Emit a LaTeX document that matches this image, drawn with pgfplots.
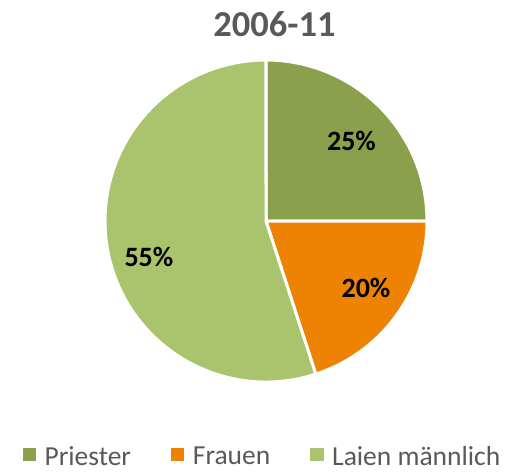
\documentclass[border=0pt]{standalone}
\usepackage{pgfplots}
\usepackage{pgfplotstable}
\pgfplotsset{compat=1.18}
\usepackage{fontspec}
\setmainfont{Carlito}
\definecolor{cPri}{HTML}{8BA04D}
\definecolor{cFra}{HTML}{EE8303}
\definecolor{cLai}{HTML}{AAC36D}
\definecolor{txt}{HTML}{595959}
\pgfplotstableread{
label value
Priester 25
Frauen 20
Laien 55
}\piedata
\begin{document}
\begin{tikzpicture}[x=1pt,y=1pt]
\path[use as bounding box] (-266,-251) rectangle (247,221);
\pgfplotstablegetelem{0}{value}\of\piedata \edef\vA{\pgfplotsretval}
\pgfplotstablegetelem{1}{value}\of\piedata \edef\vB{\pgfplotsretval}
\pgfplotstablegetelem{2}{value}\of\piedata \edef\vC{\pgfplotsretval}
\pgfmathsetmacro{\aA}{90}
\pgfmathsetmacro{\aB}{\aA-3.6*\vA}
\pgfmathsetmacro{\aC}{\aB-3.6*\vB}
\pgfmathsetmacro{\aD}{\aC-3.6*\vC}
\pgfmathsetmacro{\xA}{cos(\aA)}\pgfmathsetmacro{\yA}{sin(\aA)}
\pgfmathsetmacro{\xB}{cos(\aB)}\pgfmathsetmacro{\yB}{sin(\aB)}
\pgfmathsetmacro{\xC}{cos(\aC)}\pgfmathsetmacro{\yC}{sin(\aC)}
\begin{axis}[
  at={(0,0)}, anchor=origin,
  x=161pt, y=161pt,
  xmin=-1.1, xmax=1.1, ymin=-1.1, ymax=1.1,
  hide axis, clip=false,
  legend columns=3,
  legend style={draw=none, fill=none, font=\fontsize{27.5}{30}\selectfont\color{txt},
    at={(0.4873,-0.166)}, anchor=center, nodes={inner sep=0pt},
    /tikz/every odd column/.append style={column sep=9pt},
    /tikz/every even column/.append style={column sep=40pt}},
  legend image code/.code={\fill[#1] (0pt,-3.5pt) rectangle (12.5pt,9pt);},
]
\addlegendimage{cPri}\addlegendentry{Priester}
\addlegendimage{cFra}\addlegendentry{Frauen}
\addlegendimage{cLai}\addlegendentry{Laien männlich}
\filldraw[fill=cPri, draw=white, line width=3pt, line join=round]
  (axis cs:0,0) -- (axis cs:\xA,\yA) arc[start angle=\aA, end angle=\aB, radius=161pt] -- cycle;
\filldraw[fill=cFra, draw=white, line width=3pt, line join=round]
  (axis cs:0,0) -- (axis cs:\xB,\yB) arc[start angle=\aB, end angle=\aC, radius=161pt] -- cycle;
\filldraw[fill=cLai, draw=white, line width=3pt, line join=round]
  (axis cs:0,0) -- (axis cs:\xC,\yC) arc[start angle=\aC, end angle=\aD, radius=161pt] -- cycle;
\node[font=\fontsize{28}{32}\selectfont\bfseries, anchor=base, inner sep=0pt] at (axis cs:0.531,0.441) {\vA\%};
\node[font=\fontsize{28}{32}\selectfont\bfseries, anchor=base, inner sep=0pt] at (axis cs:0.621,-0.478) {\vB\%};
\node[font=\fontsize{28}{32}\selectfont\bfseries, anchor=base, inner sep=0pt] at (axis cs:-0.727,-0.28) {\vC\%};
\node[font=\fontsize{36.5}{40}\selectfont\bfseries, text=txt, anchor=base, inner sep=0pt] at (axis cs:0.053,1.143) {2006-11};
\end{axis}
\end{tikzpicture}
\end{document}
